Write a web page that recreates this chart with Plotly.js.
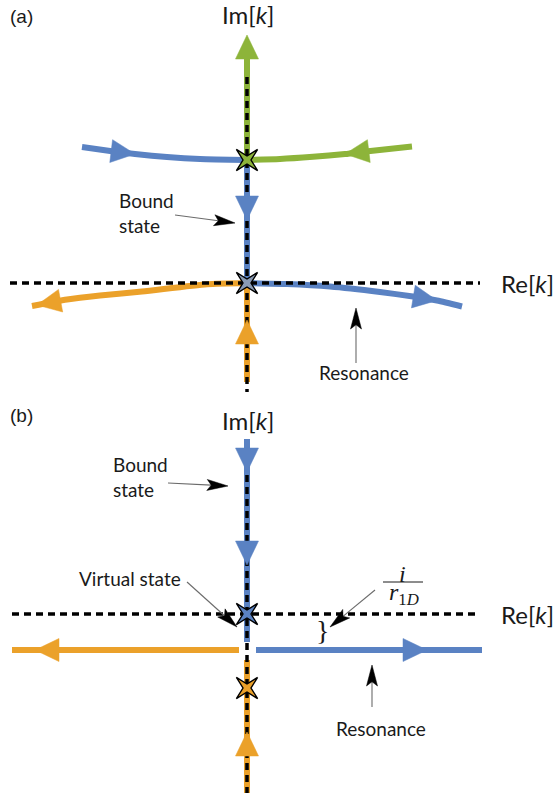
<!DOCTYPE html>
<html>
<head>
<meta charset="utf-8">
<script src="https://cdn.plot.ly/plotly-3.0.1.min.js"></script>
<style>
  html, body { margin: 0; padding: 0; background: #ffffff; }
  #fig { width: 557px; height: 793px; }
</style>
</head>
<body>
<div id="fig"></div>
<script>
// Pole trajectories in the complex k-plane (x = Re[k], y = Im[k]).
// Each path is listed in the direction of travel.

// Panel (a)
const aGreenUpX   = [0, 0];
const aGreenUpY   = [1.23, 2.48];
const aBlueInX    = [-1.65, -1.35, -1.12, -0.80, -0.47, 0];
const aBlueInY    = [1.36, 1.318, 1.29, 1.26, 1.24, 1.23];
const aGreenInX   = [1.65, 1.21, 0.98, 0.66, 0.33, 0];
const aGreenInY   = [1.365, 1.318, 1.29, 1.262, 1.24, 1.23];
const aBlueDownX  = [0, 0];
const aBlueDownY  = [1.23, 0];
const aOrangeOutX = [0, -0.40, -1.05, -1.47, -1.80, -2.15];
const aOrangeOutY = [0, -0.012, -0.085, -0.125, -0.165, -0.23];
const aBlueOutX   = [0, 0.40, 0.83, 1.33, 1.66, 1.90, 2.15];
const aBlueOutY   = [0, -0.01, -0.035, -0.09, -0.135, -0.175, -0.235];
const aOrangeUpX  = [0, 0];
const aOrangeUpY  = [-0.99, 0];
const aPoleX      = [0, 0];
const aPoleY      = [1.23, 0];

// Panel (b)
const bBlueDownX   = [0, 0];
const bBlueDownY   = [1.75, -0.28];
const bOrangeOutX  = [-0.08, -2.35];
const bOrangeOutY  = [-0.36, -0.36];
const bBlueOutX    = [0.09, 2.35];
const bBlueOutY    = [-0.36, -0.36];
const bOrangeUpX   = [0, 0];
const bOrangeUpY   = [-1.79, -0.46];
const bPoleX       = [0, 0];
const bPoleY       = [0, -0.74];

// Axis lines (dashed) of each panel
const aReAxisX = [-2.37, 2.33], aReAxisY = [0, 0];
const aImAxisX = [0, 0],        aImAxisY = [2.06, -1.09];
const bReAxisX = [-2.35, 2.33], bReAxisY = [0, 0];
const bImAxisX = [0, 0],        bImAxisY = [1.39, -1.79];

const BLUE = '#5a82c3', GREEN = '#8db43a', ORANGE = '#eba12a';
const TEXT = '#1a1a1a';

const paths = [
  { x: aGreenUpX,   y: aGreenUpY,   color: GREEN,  p: 'a', curve: false, arrows: [{ y: 2.48 }] },
  { x: aBlueInX,    y: aBlueInY,    color: BLUE,   p: 'a', curve: true,  arrows: [{ x: -1.12 }] },
  { x: aGreenInX,   y: aGreenInY,   color: GREEN,  p: 'a', curve: true,  arrows: [{ x: 0.98 }] },
  { x: aBlueDownX,  y: aBlueDownY,  color: BLUE,   p: 'a', curve: false, arrows: [{ y: 0.63 }] },
  { x: aOrangeOutX, y: aOrangeOutY, color: ORANGE, p: 'a', curve: true,  arrows: [{ x: -2.10 }] },
  { x: aBlueOutX,   y: aBlueOutY,   color: BLUE,   p: 'a', curve: true,  arrows: [{ x: 1.90 }] },
  { x: aOrangeUpX,  y: aOrangeUpY,  color: ORANGE, p: 'a', curve: false, arrows: [{ y: -0.37 }] },
  { x: bBlueDownX,  y: bBlueDownY,  color: BLUE,   p: 'b', curve: false, arrows: [{ y: 1.42 }, { y: 0.49 }] },
  { x: bOrangeOutX, y: bOrangeOutY, color: ORANGE, p: 'b', curve: false, arrows: [{ x: -2.12 }] },
  { x: bBlueOutX,   y: bBlueOutY,   color: BLUE,   p: 'b', curve: false, arrows: [{ x: 1.80 }] },
  { x: bOrangeUpX,  y: bOrangeUpY,  color: ORANGE, p: 'b', curve: false, arrows: [{ y: -1.18 }] },
];

const axesOf = { a: { xaxis: 'x', yaxis: 'y' }, b: { xaxis: 'x2', yaxis: 'y2' } };

// Find the point on a polyline where a coordinate reaches a value, with the local direction.
function locate(xs, ys, key, v) {
  const c = key === 'x' ? xs : ys;
  for (let i = 0; i < c.length - 1; i++) {
    const a = c[i], b = c[i + 1];
    if (a !== b && (v - a) * (v - b) <= 0) {
      const t = (v - a) / (b - a);
      const dx = xs[i + 1] - xs[i], dy = ys[i + 1] - ys[i];
      const n = Math.hypot(dx, dy);
      return { px: xs[i] + t * dx, py: ys[i] + t * dy, dx: dx / n, dy: dy / n };
    }
  }
  return null;
}

// Triangle head with its tip at (tx, ty), pointing along (dx, dy).
function head(tx, ty, dx, dy, len, hw, notch) {
  const bx = tx - dx * len, by = ty - dy * len;
  const nx = -dy, ny = dx;
  const mx = tx - dx * len * (1 - notch), my = ty - dy * len * (1 - notch);
  return {
    x: [tx, bx + nx * hw, mx, bx - nx * hw, tx],
    y: [ty, by + ny * hw, my, by - ny * hw, ty]
  };
}

const HEAD_LEN = 0.24, HEAD_HW = 0.115;
const lineTraces = [], headTraces = [];

paths.forEach(p => {
  let xs = p.x.slice(), ys = p.y.slice();
  const heads = [];
  p.arrows.forEach(a => {
    const key = a.x !== undefined ? 'x' : 'y';
    const loc = locate(p.x, p.y, key, a[key]);
    if (!loc) return;
    heads.push(head(loc.px, loc.py, loc.dx, loc.dy, HEAD_LEN, HEAD_HW, 0));
    // a head sitting at the very end of a path: stop the stroke at the head's base
    const last = xs.length - 1;
    if (Math.hypot(xs[last] - loc.px, ys[last] - loc.py) < 1e-6) {
      xs[last] = loc.px - loc.dx * HEAD_LEN * 0.8;
      ys[last] = loc.py - loc.dy * HEAD_LEN * 0.8;
    }
  });
  lineTraces.push(Object.assign({
    type: 'scatter', mode: 'lines', x: xs, y: ys, hoverinfo: 'skip',
    line: { color: p.color, width: 6, shape: p.curve ? 'spline' : 'linear', smoothing: 0.6 }
  }, axesOf[p.p]));
  heads.forEach(h => headTraces.push(Object.assign({
    type: 'scatter', mode: 'lines', x: h.x, y: h.y, fill: 'toself', fillcolor: p.color,
    line: { color: p.color, width: 0.5 }, hoverinfo: 'skip'
  }, axesOf[p.p])));
});

const dashed = (x, y, panel) => Object.assign({
  type: 'scatter', mode: 'lines', x, y, hoverinfo: 'skip',
  line: { color: '#000000', width: 3.5, dash: '7px,5px' }
}, axesOf[panel]);

const dashTraces = [
  dashed(aReAxisX, aReAxisY, 'a'), dashed(aImAxisX, aImAxisY, 'a'),
  dashed(bReAxisX, bReAxisY, 'b'), dashed(bImAxisX, bImAxisY, 'b')
];

// Four-pointed star drawn around each pole, points along the diagonals.
const STAR_OUT = 0.15, STAR_IN = 0.04;
function star(cx, cy) {
  const xs = [], ys = [];
  for (let k = 0; k <= 8; k++) {
    const ang = Math.PI / 4 + k * Math.PI / 4;
    const r = k % 2 === 0 ? STAR_OUT : STAR_IN;
    xs.push(cx + r * Math.cos(ang));
    ys.push(cy + r * Math.sin(ang));
  }
  return { x: xs, y: ys };
}
const poleTraces = [];
[[aPoleX, aPoleY, [GREEN, '#8a9bb4'], 'a'], [bPoleX, bPoleY, [BLUE, ORANGE], 'b']].forEach(([px, py, cols, panel]) => {
  px.forEach((x, i) => {
    const s = star(x, py[i]);
    poleTraces.push(Object.assign({
      type: 'scatter', mode: 'lines', x: s.x, y: s.y, fill: 'toself', fillcolor: cols[i],
      line: { color: '#000000', width: 1.4 }, hoverinfo: 'skip'
    }, axesOf[panel]));
  });
});

// Thin pointers from labels to the features they name
const pointers = [
  { p: 'a', from: [-0.72, 0.68], to: [-0.12, 0.60] },
  { p: 'a', from: [1.09, -0.80], to: [1.09, -0.25] },
  { p: 'b', from: [-0.79, 1.31], to: [-0.19, 1.28] },
  { p: 'b', from: [-0.60, 0.32], to: [-0.10, -0.13] },
  { p: 'b', from: [1.28, 0.24],  to: [0.83, -0.13] },
  { p: 'b', from: [1.25, -0.93], to: [1.25, -0.51] }
];
const PTR_LEN = 0.21, PTR_HW = 0.055;
const pointerTraces = [];
pointers.forEach(q => {
  const dx0 = q.to[0] - q.from[0], dy0 = q.to[1] - q.from[1];
  const n = Math.hypot(dx0, dy0), dx = dx0 / n, dy = dy0 / n;
  pointerTraces.push(Object.assign({
    type: 'scatter', mode: 'lines', hoverinfo: 'skip',
    x: [q.from[0], q.to[0] - dx * PTR_LEN * 0.8], y: [q.from[1], q.to[1] - dy * PTR_LEN * 0.8],
    line: { color: '#6b6b6b', width: 1.1 }
  }, axesOf[q.p]));
  const h = head(q.to[0], q.to[1], dx, dy, PTR_LEN, PTR_HW, 0.2);
  pointerTraces.push(Object.assign({
    type: 'scatter', mode: 'lines', x: h.x, y: h.y, fill: 'toself', fillcolor: '#000000',
    line: { color: '#000000', width: 0.5 }, hoverinfo: 'skip'
  }, axesOf[q.p]));
});

const LABEL_FONT = { family: 'Lato, "Open Sans", sans-serif', size: 19, color: TEXT };
const AXIS_FONT  = { family: 'Lato, "Open Sans", sans-serif', size: 24, color: TEXT };
const PANEL_FONT = { family: '"Liberation Sans", Arial, sans-serif', size: 19, color: TEXT };
const MATH_FONT  = { family: '"Liberation Serif", "DejaVu Serif", serif', size: 24, color: TEXT };

function label(panel, x, y, text, font, extra) {
  const ax = axesOf[panel];
  return Object.assign({
    xref: ax.xaxis, yref: ax.yaxis, x, y, text, showarrow: false, font,
    xanchor: 'center', yanchor: 'middle'
  }, extra || {});
}

const annotations = [
  label('a', -2.39, 2.67, '(a)', PANEL_FONT, { xanchor: 'left' }),
  label('a', 0.01, 2.69, 'Im[<i>k</i>]', AXIS_FONT),
  label('a', 2.52, 0.0, 'Re[<i>k</i>]', AXIS_FONT, { xanchor: 'left' }),
  label('a', -1.30, 0.705, 'Bound<br>state', LABEL_FONT, { xanchor: 'left', align: 'left' }),
  label('a', 1.17, -0.89, 'Resonance', LABEL_FONT),

  label('b', -2.39, 1.99, '(b)', PANEL_FONT, { xanchor: 'left' }),
  label('b', 0.01, 1.94, 'Im[<i>k</i>]', AXIS_FONT),
  label('b', 2.52, 0.0, 'Re[<i>k</i>]', AXIS_FONT, { xanchor: 'left' }),
  label('b', -1.36, 1.375, 'Bound<br>state', LABEL_FONT, { xanchor: 'left', align: 'left' }),
  label('b', -1.70, 0.36, 'Virtual state', LABEL_FONT, { xanchor: 'left' }),
  label('b', 1.34, -1.14, 'Resonance', LABEL_FONT),
  label('b', 1.555, 0.405, '<i>i</i>', MATH_FONT),
  label('b', 1.57, 0.20, '<i>r</i><sub>1<i>D</i></sub>', MATH_FONT),
  label('b', 0.75, -0.16, '}', { family: '"Liberation Serif", serif', size: 28, color: TEXT })
];

const shapes = [
  { type: 'line', xref: 'x2', yref: 'y2', x0: 1.36, x1: 1.76, y0: 0.32, y1: 0.32,
    line: { color: TEXT, width: 1 } }
];

const hidden = { visible: false, showgrid: false, zeroline: false, fixedrange: true };

const layout = {
  width: 557, height: 793,
  margin: { l: 0, r: 0, t: 0, b: 0 },
  paper_bgcolor: '#ffffff', plot_bgcolor: '#ffffff',
  showlegend: false,
  xaxis:  Object.assign({ domain: [0, 1], range: [-2.47, 3.10], anchor: 'y' }, hidden),
  yaxis:  Object.assign({ domain: [0.5, 1], range: [-1.135, 2.83], anchor: 'x' }, hidden),
  xaxis2: Object.assign({ domain: [0, 1], range: [-2.47, 3.10], anchor: 'y2' }, hidden),
  yaxis2: Object.assign({ domain: [0, 0.5], range: [-1.79, 2.175], anchor: 'x2' }, hidden),
  annotations, shapes
};

Plotly.newPlot('fig',
  [].concat(lineTraces, dashTraces, headTraces, poleTraces, pointerTraces),
  layout, { staticPlot: true, displayModeBar: false });
</script>
</body>
</html>
